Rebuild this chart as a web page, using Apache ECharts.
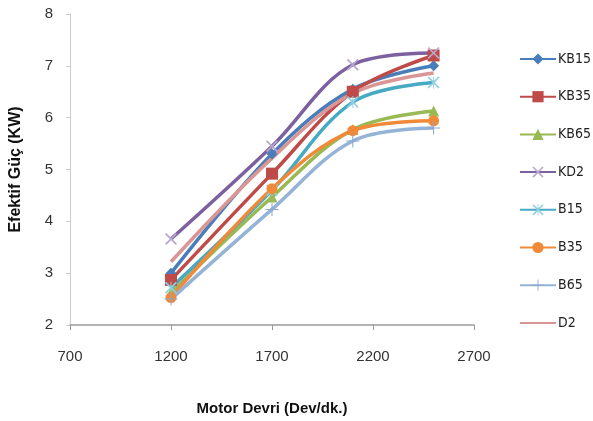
<!DOCTYPE html>
<html><head><meta charset="utf-8">
<script src="https://cdn.jsdelivr.net/npm/echarts@6/dist/echarts.min.js"></script>
<style>html,body{margin:0;padding:0;background:#fff}#c{width:593px;height:421px}</style>
</head><body><div id="c"></div>
<script>
var rpm = [1200, 1700, 2100, 2500];
var KB15 = [3.0, 5.3, 6.55, 7.0];
var KB35 = [2.87, 4.92, 6.5, 7.2];
var KB65 = [2.62, 4.47, 5.77, 6.13];
var KD2  = [3.66, 5.45, 7.02, 7.25];
var B15  = [2.72, 4.6, 6.3, 6.68];
var B35  = [2.53, 4.63, 5.75, 5.94];
var B65  = [2.5, 4.23, 5.55, 5.8];
var D2   = [3.22, 5.22, 6.47, 6.86];
var xTicks = [700, 1200, 1700, 2200, 2700];
var yTicks = [2, 3, 4, 5, 6, 7, 8];

var X = 'path://M0,1L1,0L5,4L9,0L10,1L6,5L10,9L9,10L5,6L1,10L0,9L4,5Z';
var PLUS = 'path://M4.6,0H5.4V4.6H10V5.4H5.4V10H4.6V5.4H0V4.6H4.6Z';
var AST = 'path://M0,1L1,0L4.6,3.6V0H5.4V3.6L9,0L10,1L6,5L10,9L9,10L5.4,6.4V10H4.6V6.4L1,10L0,9L4,5Z';

var defs = [
  {name:'KB15', data:KB15, color:'#4a7ebb', symbol:'diamond', size:11},
  {name:'KB35', data:KB35, color:'#be4b48', symbol:'rect', size:12},
  {name:'KB65', data:KB65, color:'#98b954', symbol:'triangle', size:11},
  {name:'KD2',  data:KD2,  color:'#7d60a0', symbol:X, size:12, symColor:'#b7a7cf'},
  {name:'B15',  data:B15,  color:'#46aac5', symbol:AST, size:12, symColor:'#8fd0e0'},
  {name:'B35',  data:B35,  color:'#f08a38', symbol:'circle', size:11},
  {name:'B65',  data:B65,  color:'#95b3d7', symbol:PLUS, size:13, symColor:'#8aa8d0'},
  {name:'D2',   data:D2,   color:'#d99694', symbol:'none', size:0}
];

var series = defs.map(function(d){
  return {
    name: d.name, type: 'line', smooth: 0.35,
    data: rpm.map(function(x,i){return [x, d.data[i]];}),
    symbol: d.symbol, symbolSize: d.size,
    lineStyle: {color: d.color, width: 3.5},
    itemStyle: {color: d.symColor || d.color},
    showSymbol: d.symbol !== 'none'
  };
});

var legendData = defs.map(function(d){
  if (d.symbol === 'none') return {name: d.name, itemStyle: {opacity: 0}};
  return {name: d.name};
});

var chart = echarts.init(document.getElementById('c'));
chart.setOption({
  animation: false,
  textStyle: {fontFamily: 'Liberation Sans'},
  grid: {left: 66, right: 119, top: 14, bottom: 90},
  legend: {
    orient: 'vertical', left: 514, top: 47,
    itemWidth: 36, itemHeight: 14, itemGap: 23.7,
    textStyle: {fontSize: 14, color: '#222', padding: [0,0,0,-3],
      fontFamily: '"Liberation Sans Narrow", "DejaVu Sans Condensed", "Liberation Sans"'},
    data: legendData
  },
  xAxis: {
    type: 'value', min: 700, max: 2700, interval: 500,
    name: 'Motor Devri (Dev/dk.)', nameLocation: 'middle', nameGap: 76,
    nameTextStyle: {fontSize: 15, fontWeight: 'bold', color: '#111'},
    axisLine: {lineStyle: {color: '#999', width: 1.5}},
    axisTick: {show: true, length: 5, lineStyle: {color: '#999'}},
    axisLabel: {fontSize: 15, color: '#333', margin: 24,
      formatter: function(v){return xTicks.indexOf(v) >= 0 ? String(v) : '';}},
    splitLine: {show: false}
  },
  yAxis: {
    type: 'value', min: 2, max: 8, interval: 1,
    name: 'Efektif Güç (KW)', nameLocation: 'middle', nameGap: 46,
    nameTextStyle: {fontSize: 16, fontWeight: 'bold', color: '#111'},
    axisLine: {show: true, lineStyle: {color: '#ccc'}},
    axisTick: {show: true, length: 4, lineStyle: {color: '#ccc'}},
    axisLabel: {fontSize: 15, color: '#333', margin: 17,
      formatter: function(v){return yTicks.indexOf(v) >= 0 ? String(v) : '';}},
    splitLine: {show: false}
  },
  series: series
});
</script>
</body></html>
